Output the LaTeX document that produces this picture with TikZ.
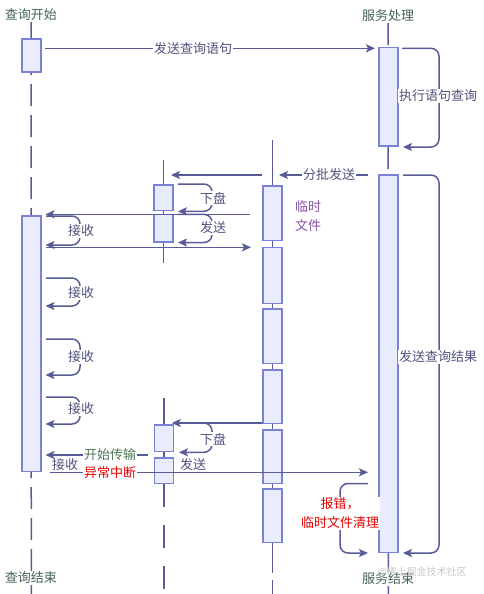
\documentclass[tikz,border=0pt]{standalone}
\usepackage{fontspec}
\setmainfont{Noto Sans CJK SC}
\usetikzlibrary{arrows.meta}
\definecolor{linec}{RGB}{88,92,150}
\definecolor{boxd}{RGB}{122,130,215}
\definecolor{boxf}{RGB}{232,236,252}
\definecolor{txtc}{RGB}{80,82,125}
\definecolor{titc}{RGB}{70,98,88}
\definecolor{grnc}{RGB}{75,120,85}
\definecolor{purc}{RGB}{135,80,165}
\definecolor{redc}{RGB}{230,0,0}
\definecolor{wmc}{RGB}{200,200,200}
\begin{document}
\begin{tikzpicture}[x=1pt,y=-1pt,
  font=\fontsize{13}{16}\selectfont,
  actbox/.style={draw=boxd,fill=boxf,line width=1.5pt,minimum width=19pt,inner sep=0pt},
  life/.style={draw=linec,line width=1.5pt},
  lifedash/.style={life,dash pattern=on 22pt off 9pt},
  msg/.style={draw=linec,line width=1.5pt,-{Stealth[length=9pt,width=8pt,inset=2pt]}},
  loopm/.style={msg,rounded corners=8pt},
  lbl/.style={text=txtc,fill=white,inner sep=1pt},
  plain/.style={text=txtc,inner sep=1pt},
  title/.style={text=titc,fill=white,inner sep=1pt}]
\useasboundingbox[fill=white] (0,0) rectangle (483,594);

% titles
\node[title] (t1) at (31,15) {查询开始};
\node[title] (t4) at (388,16) {服务处理};

% lifeline coordinates
\coordinate (l1b) at (31.3,594);
\coordinate (l4b) at (388.3,594);
\coordinate (l2t) at (163.5,160);
\coordinate (l2m) at (163.5,263);
\coordinate (l2u) at (163.8,398);
\coordinate (l2v) at (163.8,484);
\coordinate (l2b) at (163.8,594);
\coordinate (l3t) at (272.5,140);
\coordinate (l3m) at (272.5,543);
\coordinate (l3b) at (272.5,594);

% lifelines
\draw[lifedash] (t1.south) -- (l1b);
\draw[lifedash] (t4.south) -- (l4b);
\draw[life] (l2t) -- (l2m);
\draw[life] (l2u) -- (l2v);
\draw[life,dash pattern=on 23pt off 18pt] (l2v) -- (l2b);
\draw[life] (l3t) -- (l3m);
\draw[life,dash pattern=on 30pt off 7pt] (l3m) -- (l3b);

% bottom titles
\node[title] (e1) at (31,578) {查询结束};
\node[title] (e4) at (388,579) {服务结束};

% activation boxes
\node[actbox,minimum height=33pt] (b1) at (31.3,55.3) {};
\node[actbox,minimum height=255.5pt] (b1big) at (31.3,343.6) {};
\node[actbox,minimum height=25.2pt] (b2a) at (163.5,197.7) {};
\node[actbox,minimum height=27.2pt] (b2b) at (163.5,228.3) {};
\node[actbox,minimum height=26.5pt] (b2c) at (163.8,438.3) {};
\node[actbox,minimum height=25.2pt] (b2d) at (163.8,470.7) {};
\node[actbox,minimum height=54.5pt] (b3a) at (272.5,213) {};
\node[actbox,minimum height=56.1pt] (b3b) at (272.5,275.5) {};
\node[actbox,minimum height=54.5pt] (b3c) at (272.5,336.3) {};
\node[actbox,minimum height=53.5pt] (b3d) at (272.5,396.8) {};
\node[actbox,minimum height=53.2pt] (b3e) at (272.5,456.7) {};
\node[actbox,minimum height=53.5pt] (b3f) at (272.5,515.8) {};
\node[actbox,minimum height=98.8pt] (b4a) at (388.3,96.8) {};
\node[actbox,minimum height=377.8pt] (b4b) at (388.3,363.7) {};

% message coordinates
\coordinate (m1s) at (45,48.3);   \coordinate (m1e) at (375,48.3);
\coordinate (q1) at (402,48.3);   \coordinate (q2) at (439,48.3);
\coordinate (q3) at (439,147);    \coordinate (q4) at (403,147);
\coordinate (f1s) at (368,175);   \coordinate (f1e) at (279,175);
\coordinate (f2s) at (262,175);   \coordinate (f2e) at (171,175);
\coordinate (x1) at (178,184);    \coordinate (x2) at (212,184);
\coordinate (x3) at (212,211.3);  \coordinate (x4) at (178,211.3);
\coordinate (r1s) at (250,214.3); \coordinate (r1e) at (45.5,214.3);
\coordinate (s1) at (178,214.3);  \coordinate (s2) at (212,214.3);
\coordinate (s3) at (212,242.5);  \coordinate (s4) at (178,242.5);
\coordinate (j1) at (46,216);     \coordinate (j2) at (80,216);
\coordinate (j3) at (80,245);     \coordinate (j4) at (45.5,245);
\coordinate (w1s) at (46,247.3);  \coordinate (w1e) at (251,247.3);
\coordinate (k1) at (46,278);     \coordinate (k2) at (80,278);
\coordinate (k3) at (80,306);     \coordinate (k4) at (45.5,306);
\coordinate (n1) at (46,339);     \coordinate (n2) at (80,339);
\coordinate (n3) at (80,375);     \coordinate (n4) at (45.5,375);
\coordinate (p1) at (46,397);     \coordinate (p2) at (80,397);
\coordinate (p3) at (80,424);     \coordinate (p4) at (45.5,424);
\coordinate (d2s) at (262,423);   \coordinate (d2e) at (171.7,423);
\coordinate (y1) at (178,423);    \coordinate (y2) at (212,423);
\coordinate (y3) at (212,452.3);  \coordinate (y4) at (179,452.3);
\coordinate (c1s) at (148,455);   \coordinate (c1e) at (45.5,455);
\coordinate (a1s) at (50,472.3);  \coordinate (a1e) at (368,472.3);
\coordinate (g1) at (403,175);    \coordinate (g2) at (439,175);
\coordinate (g3) at (439,553);    \coordinate (g4) at (403,553);
\coordinate (h1) at (368,483.5);  \coordinate (h2) at (340,483.5);
\coordinate (h3) at (340,553);    \coordinate (h4) at (368,553);

% messages
\draw[msg] (m1s) -- (m1e);
\draw[loopm] (q1) -- (q2) -- (q3) -- (q4);
\draw[msg] (f1s) -- (f1e);
\draw[msg] (f2s) -- (f2e);
\draw[loopm] (x1) -- (x2) -- (x3) -- (x4);
\draw[loopm] (s1) -- (s2) -- (s3) -- (s4);
\draw[loopm] (j1) -- (j2) -- (j3) -- (j4);
\draw[msg] (r1s) -- (r1e);
\draw[msg] (w1s) -- (w1e);
\draw[loopm] (k1) -- (k2) -- (k3) -- (k4);
\draw[loopm] (n1) -- (n2) -- (n3) -- (n4);
\draw[loopm] (p1) -- (p2) -- (p3) -- (p4);
\draw[msg] (d2s) -- (d2e);
\draw[loopm] (y1) -- (y2) -- (y3) -- (y4);
\draw[msg] (c1s) -- (c1e);
\draw[msg] (a1s) -- (a1e);
\draw[loopm] (g1) -- (g2) -- (g3) -- (g4);
\draw[loopm] (h1) -- (h2) -- (h3) -- (h4);

% labels
\node[lbl] (L1) at (193,48.3) {发送查询语句};
\node[lbl] (L2) at (438,96) {执行语句查询};
\node[lbl] (L3) at (329,175) {分批发送};
\node[lbl] (L4) at (213,198) {下盘};
\node[lbl] (L5) at (213,228) {发送};
\node[lbl] (L6) at (81,231) {接收};
\node[lbl] (L7) at (81,293) {接收};
\node[lbl] (L8) at (81,357) {接收};
\node[lbl] (L9) at (81,409) {接收};
\node[lbl] (L10) at (213,439) {下盘};
\node[plain] (L11) at (193,465) {发送};
\node[plain] (L12) at (65,465) {接收};
\node[lbl,text=grnc] (L13) at (110,455) {开始传输};
\node[lbl,text=redc] (L14) at (110,473) {异常中断};
\node[lbl] (L15) at (438,357) {发送查询结果};
\node[lbl,text=redc,align=center,font=\fontsize{13}{19}\selectfont] (L16) at (340,513.5) {报错，\\临时文件清理};
\node[text=purc,align=left,anchor=west,inner sep=0pt,font=\fontsize{13}{19}\selectfont] (L17) at (295,216.5) {临时\\文件};
\node[text=wmc,font=\fontsize{10}{12}\selectfont,inner sep=0pt] (wm) at (422,572) {@稀土掘金技术社区};
\end{tikzpicture}
\end{document}
